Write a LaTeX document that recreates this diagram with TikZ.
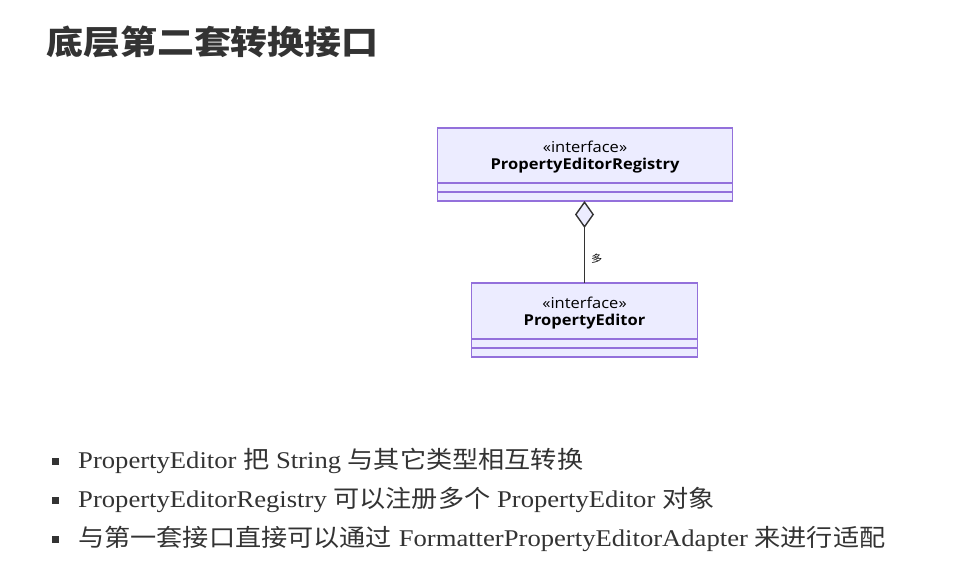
\documentclass[tikz,border=0pt]{standalone}
\usepackage{fontspec}
\usetikzlibrary{arrows.meta}
\setmainfont[FakeStretch=1.11]{Liberation Serif}
\newfontfamily\cjk[FakeStretch=1.12]{Noto Sans CJK SC}
\newfontfamily\cjktext[FakeStretch=1.09]{Noto Sans CJK SC}
\newfontfamily\umlfont[FakeStretch=1.1]{Open Sans}
\definecolor{umlfill}{HTML}{ECECFF}
\definecolor{umlline}{HTML}{9370DB}
\definecolor{textgray}{HTML}{333333}

\begin{document}
\begin{tikzpicture}[x=1pt,y=-1pt,
		classhead/.style={draw=umlline,fill=umlfill,line width=1.3pt,minimum width=#1,
			minimum height=55pt,inner sep=0pt,outer sep=0pt},
		classname/.style={inner sep=0pt,align=center,text=black,
			font=\umlfont\fontsize{15}{17}\selectfont},
		compartment/.style={draw=umlline,fill=umlfill,line width=1.3pt,minimum width=#1,
			minimum height=9pt,inner sep=0pt,outer sep=0pt,anchor=north},
		bulletbox/.style={fill=textgray,minimum size=7pt,inner sep=0pt},
		item/.style={anchor=base west,inner sep=0pt,text=textgray,font=\fontsize{24}{28}\selectfont}]
	\fill [white] (0,0) rectangle (959,576);
	\useasboundingbox (0,0) rectangle (959,576);
	\node [anchor=base west,inner sep=0pt,text=textgray,font=\cjk\bfseries\fontsize{33}{38}\selectfont]
		(title) at (46,54) {底层第二套转换接口};
	% class boxes
	\node [classhead=295pt] (registry) at (585,155.5) {};
	\node [classname] (registryname) at ([yshift=-2pt]registry.center) {«interface»\\\textbf{PropertyEditorRegistry}};
	\node [compartment=295pt] (registryA) at (registry.south) {};
	\node [compartment=295pt] (registryB) at (registryA.south) {};
	\node [classhead=226pt,minimum height=56pt] (editor) at (584.5,311) {};
	\node [classname] (editorname) at ([yshift=-2pt]editor.center) {«interface»\\\textbf{PropertyEditor}};
	\node [compartment=226pt] (editorA) at (editor.south) {};
	\node [compartment=226pt] (editorB) at (editorA.south) {};
	\draw [line width=1.4pt,draw=textgray,{Diamond[length=27pt,width=19pt,fill=umlfill]}-]
		(registryB.south -| editor.north) -- (editor.north)
		node [pos=0.7,right=6pt,inner sep=0pt,text=black,font=\cjk\fontsize{10}{12}\selectfont] (many) {多};
	% notes
	\node [bulletbox] (dot1) at (55,461) {};
	\node [bulletbox] (dot2) at (55,500) {};
	\node [bulletbox] (dot3) at (55,539) {};
	\node [item] (line1) at (78,468) {PropertyEditor {\cjktext 把} String {\cjktext 与其它类型相互转换}};
	\node [item] (line2) at (78,507) {PropertyEditorRegistry {\cjktext 可以注册多个} PropertyEditor {\cjktext 对象}};
	\node [item] (line3) at (78,546) {{\cjktext 与第一套接口直接可以通过} FormatterPropertyEditorAdapter {\cjktext 来进行适配}};
\end{tikzpicture}
\end{document}
